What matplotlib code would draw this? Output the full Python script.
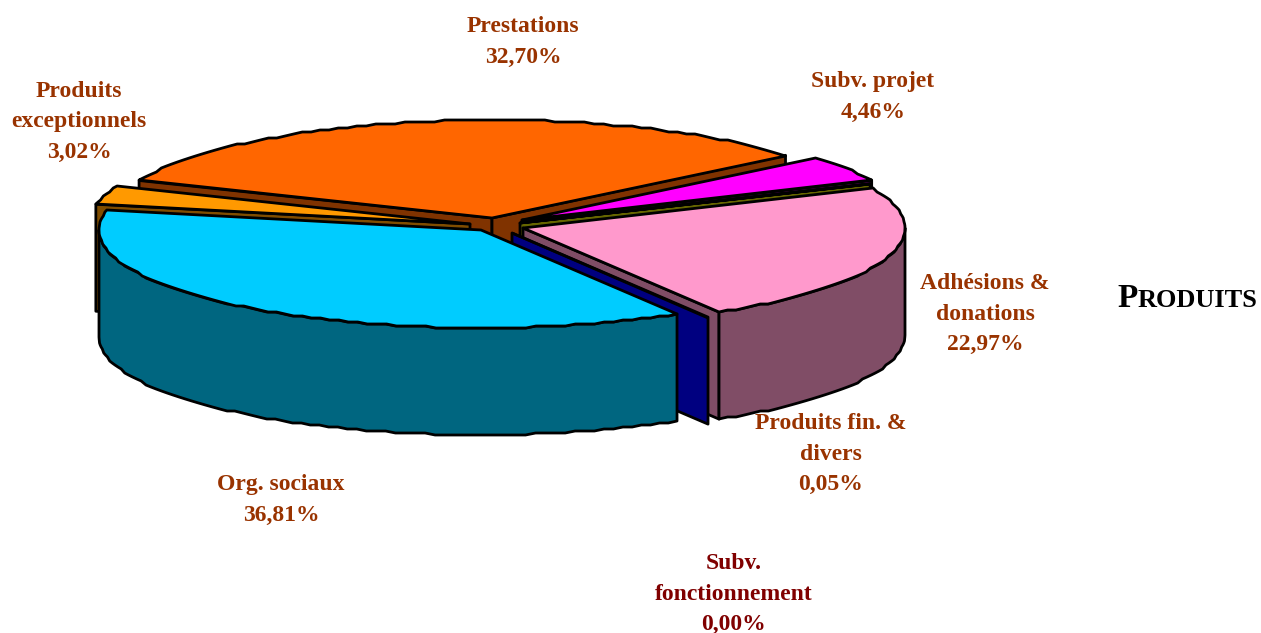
import numpy as np
import matplotlib
matplotlib.use("Agg")
import matplotlib.pyplot as plt
from matplotlib.colors import to_rgb

# values in percent, clockwise from the left side of the orange slice
names = ["Prestations", "Subv. projet", "Produits fin. &\ndivers", "Adhésions &\ndonations",
         "Subv.\nfonctionnement", "Org. sociaux", "Produits\nexceptionnels"]
values = [32.70, 4.46, 0.05, 22.97, 0.00, 36.81, 3.02]
colors = ["#FF6600", "#FF00FF", "#CCCC00", "#FF99CC", "#0000FF", "#00CCFF", "#FF9900"]
label_colors = ["#993300", "#993300", "#993300", "#993300", "#800000", "#993300", "#993300"]

# layout of the pie, in pixels
center_x, center_y = 500, 226
rx, ry = 382, 98
depth = 107
start_angle = 157.5
# how far each slice is pulled out of the pie
shift_x = [-8, 22, 20, 23, 12, -19, -30]
shift_y = [-8, -6, -3, 2, 7, 4, -2]
label_x = [523, 873, 831, 985, 734, 281, 79]
label_y = [42, 97, 454, 314, 594, 500, 122]
draw_order = [0, 1, 2, 6, 3, 4, 5]
# which cut face of a slice can be seen
start_face = [True, False, False, False, False, False, True]
end_face = [True, True, True, True, True, False, False]

fig = plt.figure(figsize=(12.61, 6.33), dpi=100)
ax = fig.add_axes([0, 0, 1, 1])
ax.set_xlim(0, 1261)
ax.set_ylim(633, 0)
ax.axis("off")

LW = 2.0


def rim(ax_, ay_, t1, t2):
    # t1 > t2, slightly stepped outline like the original
    n = max(int(abs(t1 - t2) / 1.5), 1) + 1
    t = np.radians(np.linspace(t1, t2, n))
    x = ax_ + rx * np.cos(t)
    y = ay_ - ry * np.sin(t)
    return x, np.round(y / 2) * 2


def poly(x, y, color, z):
    ax.fill(x, y, facecolor=color, edgecolor="black", linewidth=LW, joinstyle="round", zorder=z)


# slice angles come from the values
total = sum(values)
sweeps = [v / total * 360 for v in values]
starts = start_angle - np.concatenate([[0], np.cumsum(sweeps)[:-1]])

z = 1
for i in draw_order:
    t1 = starts[i]
    t2 = t1 - sweeps[i]
    ax_ = center_x + shift_x[i]
    ay_ = center_y + shift_y[i]
    top = to_rgb(colors[i])
    wall = tuple(c * 0.5 for c in top)

    x, y = rim(ax_, ay_, t1, t2)

    # cut faces that look towards the viewer
    for t, show in ((t1, start_face[i]), (t2, end_face[i])):
        if not show:
            continue
        ex = ax_ + rx * np.cos(np.radians(t))
        ey = ay_ - ry * np.sin(np.radians(t))
        poly([ax_, ex, ex, ax_], [ay_, ey, ey + depth, ay_ + depth], wall, z)
        z += 1

    # outer wall for the part of the rim facing front
    lo, hi = max(t2, -180), min(t1, 0)
    if lo < hi:
        wx, wy = rim(ax_, ay_, hi, lo)
        poly(np.r_[wx, wx[::-1]], np.r_[wy, wy[::-1] + depth], wall, z)
        z += 1

    # top face
    poly(np.r_[ax_, x], np.r_[ay_, y], top, z)
    z += 1

for i in range(len(values)):
    txt = names[i] + "\n" + f"{values[i]:.2f}".replace(".", ",") + "%"
    ax.text(label_x[i], label_y[i], txt, ha="center", va="center", color=label_colors[i],
            family="Liberation Serif", weight="bold", fontsize=17, linespacing=1.62, zorder=100)

# small caps title
ax.text(1117, 307, "P", ha="left", va="baseline", color="black", family="Liberation Serif",
        weight="bold", fontsize=24, zorder=100)
ax.text(1138, 307, "RODUITS", ha="left", va="baseline", color="black", family="Liberation Serif",
        weight="bold", fontsize=19, zorder=100)

fig.savefig("out.png", dpi=100)
